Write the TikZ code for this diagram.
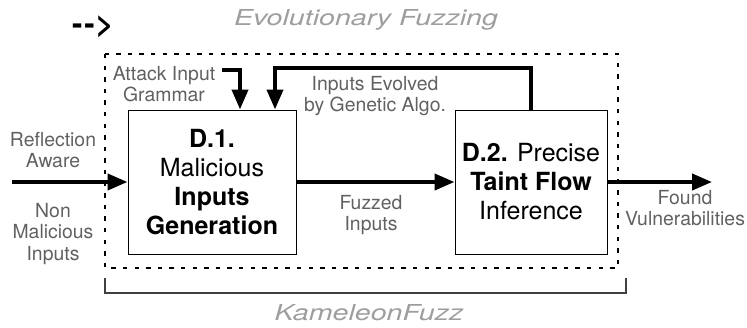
\documentclass[tikz,border=0pt]{standalone}
\usepackage{fontspec}
\usepackage{graphicx}
\setmainfont{TeX Gyre Heros}
\usetikzlibrary{arrows.meta}
\definecolor{labelgray}{gray}{0.38}
\definecolor{titlegray}{gray}{0.62}
\newcommand{\widen}[1]{\scalebox{1.3}[1]{#1}}

\begin{document}
\begin{tikzpicture}[x=0.5pt, y=-0.5pt,
	stage/.style={draw, line width=0.5pt, align=center, inner sep=0pt, minimum height=72pt, font=\fontsize{12.5}{14.5}\selectfont},
	note/.style={align=center, inner sep=0pt, text=labelgray, font=\fontsize{9.7}{10.8}\selectfont},
	heading/.style={anchor=base, inner sep=0pt, text=titlegray, font=\fontsize{11}{13}\itshape\selectfont},
	flow/.style={line width=2pt, -{Triangle[length=10pt,width=8pt]}}]
		\useasboundingbox (0,0) rectangle (747,327);
		\node[anchor=base, inner sep=0pt, font=\fontsize{15.5}{18}\bfseries] (mark) at (93,34) {-\kern1pt-\kern0.5pt>};
		\node[heading] (evo) at (366,25) {\widen{Evolutionary Fuzzing}};
		\node[heading] (kf) at (369,320) {\widen{KameleonFuzz}};
		\draw[line width=1.2pt, dash pattern=on 2.2pt off 3.6pt] (105,54) rectangle (618,268);
		\draw[line width=1pt, draw=black!75] (105,278) |- (626,293) -- (626,278);
		\node[stage, minimum width=84pt] (D_1) at (212,182) {\textbf{D.1.}\\Malicious\\\textbf{Inputs}\\\textbf{Generation}};
		\node[stage, minimum width=76pt] (D_2) at (531,182) {\textbf{D.2.} Precise\\\textbf{Taint Flow}\\Inference};
		\node[note] (refl) at (53,150) {Reflection\\Aware};
		\node[note] (nonmal) at (53,234) {Non\\Malicious\\Inputs};
		\node[note] (grammar) at (164,84) {Attack Input\\Grammar};
		\node[note] (evolved) at (375,96) {Inputs Evolved\\by Genetic Algo.};
		\node[note] (fuzzed) at (371,215) {Fuzzed\\Inputs};
		\node[note] (found) at (685,208) {Found\\Vulnerabilities};
		\coordinate (src) at (12,182);
		\coordinate (sink) at (712,182);
		\coordinate (ga) at (222,70);
		\coordinate (ga_turn) at (240,70);
		\coordinate (fb) at (275,68);
		\draw[flow] (src) -- (src -| D_1.west);
		\draw[flow] (D_1.east |- src) -- (D_2.west |- src);
		\draw[flow] (D_2.east |- sink) -- (sink);
		\draw[flow] (ga) -- (ga_turn) -- (ga_turn |- D_1.north);
		\draw[flow] (D_2.north) |- (fb) -- (fb |- D_1.north);
	\end{tikzpicture}
\end{document}
